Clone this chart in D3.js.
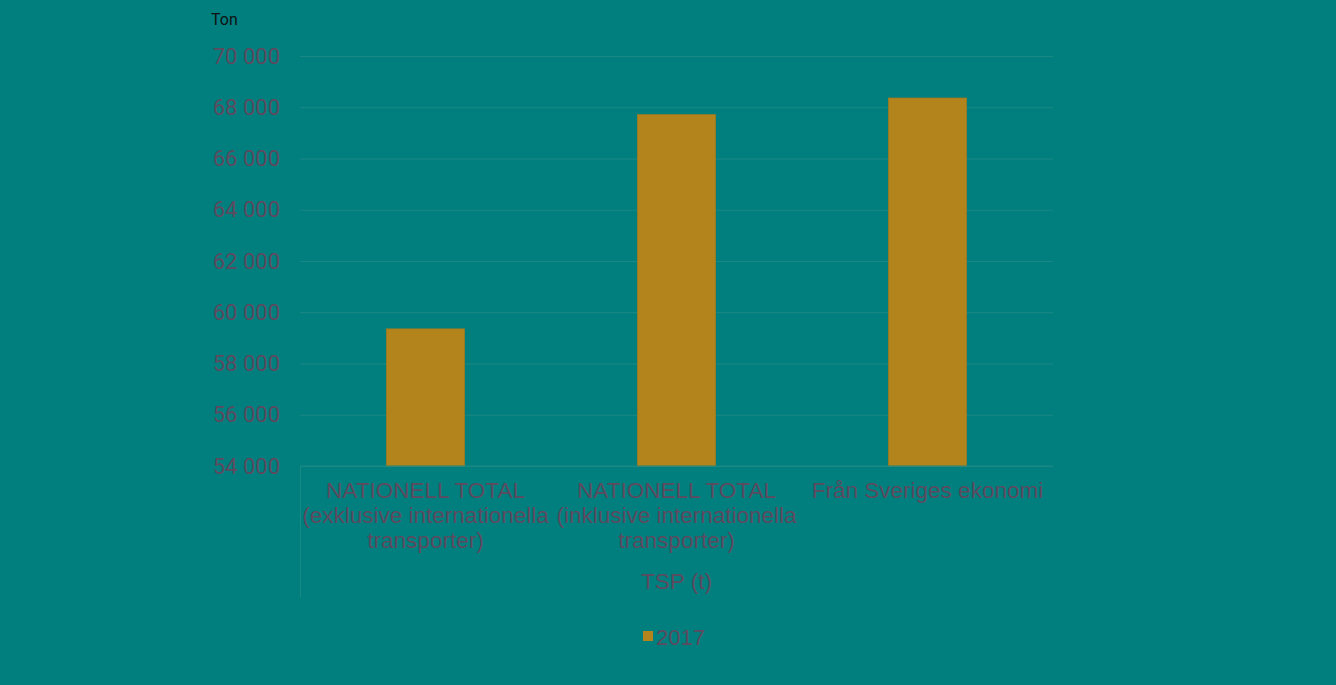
<!DOCTYPE html>
<html>
<head>
<meta charset="utf-8">
<script src="https://cdn.jsdelivr.net/npm/d3@7"></script>
<style>
  body { margin: 0; background: #007f7e; }
  svg { display: block; }
</style>
</head>
<body>
<div id="chart-div"></div>
<script>
// Data
const categories = ['natExkl', 'natInkl', 'sverige'];
const categoryLines = [
  ['NATIONELL TOTAL', '(exklusive internationella', 'transporter)'],
  ['NATIONELL TOTAL', '(inklusive internationella', 'transporter)'],
  ['Från Sveriges ekonomi']
];
const values2017 = [59350, 67710, 68360];
const yTicks = [54000, 56000, 58000, 60000, 62000, 64000, 66000, 68000, 70000];
const seriesName = '2017';
const axisTitle = 'TSP (t)';
const unitLabel = 'Ton';

const WIDTH = 1336;
const HEIGHT = 685;
const MARGIN = { left: 300, right: 283, top: 56, bottom: 219 };
const TEXT_COLOR = '#5d4a5f';
const GRID_COLOR = '#1c8884';
const BAR_COLOR = '#b3841b';
const CAT_FONT = '"Liberation Sans", Arial, sans-serif';

const svg = d3.select('#chart-div')
  .append('svg')
  .attr('width', WIDTH)
  .attr('height', HEIGHT);

svg.append('rect')
  .attr('width', WIDTH)
  .attr('height', HEIGHT)
  .attr('fill', '#007f7e');

const yScale = d3.scaleLinear()
  .domain([54000, 70000])
  .range([HEIGHT - MARGIN.bottom, MARGIN.top]);

const xScale = d3.scaleBand()
  .domain(categories)
  .range([MARGIN.left, WIDTH - MARGIN.right])
  .paddingInner(0.69)
  .paddingOuter(0.345);

const sv = d3.formatLocale({ decimal: ',', thousands: ' ', grouping: [3], currency: ['', ' kr'] });
const fmt = sv.format(',d');

// gridlines
svg.append('g')
  .attr('transform', `translate(${MARGIN.left},0)`)
  .call(d3.axisLeft(yScale).tickValues(yTicks).tickSize(-(WIDTH - MARGIN.left - MARGIN.right)).tickFormat(''))
  .call(g => g.select('.domain').remove())
  .call(g => g.selectAll('line').attr('stroke', GRID_COLOR).attr('stroke-width', 1));

// y labels
svg.append('g')
  .attr('transform', `translate(${MARGIN.left},0)`)
  .call(d3.axisLeft(yScale).tickValues(yTicks).tickSize(0).tickPadding(20).tickFormat(fmt))
  .call(g => g.select('.domain').remove())
  .call(g => g.selectAll('text')
    .attr('fill', TEXT_COLOR)
    .style('font-family', 'Roboto, sans-serif')
    .style('font-size', '22px'));

// bars
svg.append('g')
  .selectAll('rect')
  .data(values2017)
  .join('rect')
  .attr('x', (d, i) => xScale(categories[i]))
  .attr('width', xScale.bandwidth())
  .attr('y', d => yScale(d))
  .attr('height', d => yScale(54000) - yScale(d))
  .attr('fill', BAR_COLOR)
  .attr('stroke', '#a47a1f')
  .attr('stroke-width', 0.8);

// x axis
const xaxis = svg.append('g')
  .attr('transform', `translate(0,${HEIGHT - MARGIN.bottom})`)
  .call(d3.axisBottom(xScale).tickSize(0).tickFormat(''));
xaxis.select('.domain').attr('stroke', GRID_COLOR).attr('d', `M${MARGIN.left},0H${WIDTH - MARGIN.right}`);

svg.append('line')
  .attr('x1', MARGIN.left + 0.5).attr('x2', MARGIN.left + 0.5)
  .attr('y1', HEIGHT - MARGIN.bottom).attr('y2', 597)
  .attr('stroke', GRID_COLOR);

// category labels
const catLabels = svg.append('g')
  .selectAll('text')
  .data(categoryLines)
  .join('text')
  .attr('x', (d, i) => xScale(categories[i]) + xScale.bandwidth() / 2)
  .attr('y', HEIGHT - MARGIN.bottom + 32)
  .attr('text-anchor', 'middle')
  .attr('fill', TEXT_COLOR)
  .style('font-family', CAT_FONT)
  .style('font-size', '22.5px');
catLabels.selectAll('tspan')
  .data(d => d)
  .join('tspan')
  .attr('x', function() { return d3.select(this.parentNode).attr('x'); })
  .attr('dy', (d, i) => i === 0 ? 0 : 25)
  .text(d => d);

svg.append('text')
  .attr('x', (MARGIN.left + WIDTH - MARGIN.right) / 2)
  .attr('y', 589)
  .attr('text-anchor', 'middle')
  .attr('fill', TEXT_COLOR)
  .style('font-family', CAT_FONT)
  .style('font-size', '22.5px')
  .text(axisTitle);

// unit
svg.append('text')
  .attr('x', 211)
  .attr('y', 25)
  .attr('fill', '#111')
  .style('font-family', 'Roboto, sans-serif')
  .style('font-size', '16px')
  .text(unitLabel);

// legend
const legend = svg.append('g').attr('transform', 'translate(643,631)');
legend.append('rect')
  .attr('width', 10).attr('height', 10)
  .attr('fill', BAR_COLOR);
legend.append('text')
  .attr('x', 13)
  .attr('y', 14)
  .attr('fill', TEXT_COLOR)
  .style('font-family', CAT_FONT)
  .style('font-size', '22px')
  .text(seriesName);
</script>
</body>
</html>
